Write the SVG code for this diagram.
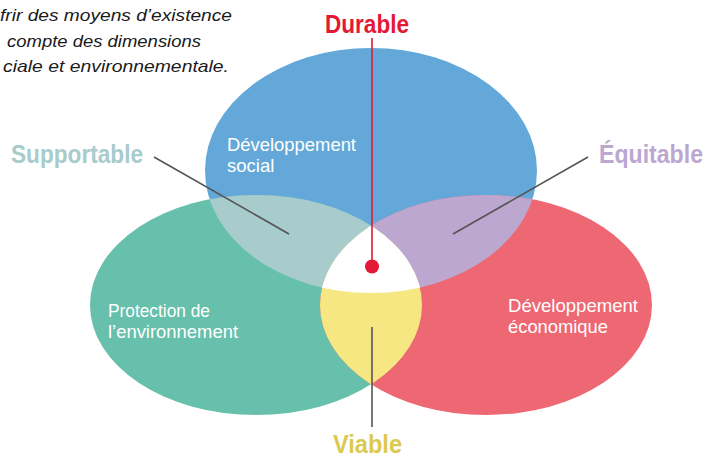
<svg xmlns="http://www.w3.org/2000/svg" width="707" height="459" viewBox="0 0 707 459">
<style>
.lab{font-family:"Liberation Sans",Arial,sans-serif;font-weight:bold;font-size:26px}
.in{font-family:"Liberation Sans",Arial,sans-serif;font-size:18.5px;fill:#ffffff}
.it{font-family:"Liberation Sans",Arial,sans-serif;font-style:italic;font-size:16.5px;fill:#1a1a1a}
.ln{stroke:#555555;stroke-width:1.6;fill:none}
</style>
<defs>
<clipPath id="cBlue"><ellipse cx="371" cy="170.5" rx="166" ry="122.5"/></clipPath>
<clipPath id="cGreen"><ellipse cx="256" cy="305" rx="166" ry="110"/></clipPath>
<clipPath id="cRed"><ellipse cx="486" cy="305" rx="166" ry="110"/></clipPath>
</defs>
<g id="intro">
<text class="it" x="0" y="21" textLength="232" lengthAdjust="spacingAndGlyphs">frir des moyens d’existence</text>
<text class="it" x="7" y="47" textLength="194" lengthAdjust="spacingAndGlyphs">compte des dimensions</text>
<text class="it" x="3" y="72" textLength="226" lengthAdjust="spacingAndGlyphs">ciale et environnementale.</text>
</g>
<g id="social"><ellipse cx="371" cy="170.5" rx="166" ry="122.5" fill="#63a8d9"/></g>
<g id="environnement"><ellipse cx="256" cy="305" rx="166" ry="110" fill="#67c0ab"/></g>
<g id="economique"><ellipse cx="486" cy="305" rx="166" ry="110" fill="#ed6872"/></g>
<g id="supportable-zone" clip-path="url(#cBlue)"><ellipse cx="256" cy="305" rx="166" ry="110" fill="#a8cbcc"/></g>
<g id="equitable-zone" clip-path="url(#cBlue)"><ellipse cx="486" cy="305" rx="166" ry="110" fill="#bca7d1"/></g>
<g id="viable-zone" clip-path="url(#cGreen)"><ellipse cx="486" cy="305" rx="166" ry="110" fill="#f7e783"/></g>
<g id="durable-zone" clip-path="url(#cBlue)"><g clip-path="url(#cGreen)"><ellipse cx="486" cy="305" rx="166" ry="110" fill="#ffffff"/></g></g>
<g id="inner-labels">
<text class="in" x="227" y="151" textLength="129" lengthAdjust="spacingAndGlyphs">Développement</text>
<text class="in" x="227" y="172">social</text>
<text class="in" x="108" y="317" textLength="102" lengthAdjust="spacingAndGlyphs">Protection de</text>
<text class="in" x="108" y="338" textLength="130" lengthAdjust="spacingAndGlyphs">l’environnement</text>
<text class="in" x="508" y="312" textLength="130" lengthAdjust="spacingAndGlyphs">Développement</text>
<text class="in" x="508" y="333" textLength="100" lengthAdjust="spacingAndGlyphs">économique</text>
</g>
<g id="connectors">
<line class="ln" x1="154" y1="157" x2="289" y2="234"/>
<line class="ln" x1="588" y1="157" x2="453" y2="234"/>
<line class="ln" x1="372" y1="327" x2="372" y2="427"/>
<line x1="372" y1="38" x2="372" y2="266" stroke="#e31937" stroke-width="1.6"/>
<circle cx="372" cy="266.5" r="7" fill="#e31937"/>
</g>
<g id="labels">
<text class="lab" x="325" y="33" fill="#e31937" textLength="84" lengthAdjust="spacingAndGlyphs">Durable</text>
<text class="lab" x="11" y="163" fill="#a8cbcc" textLength="132" lengthAdjust="spacingAndGlyphs">Supportable</text>
<text class="lab" x="599" y="163" fill="#bca7d1" textLength="104" lengthAdjust="spacingAndGlyphs">Équitable</text>
<text class="lab" x="333" y="453" fill="#dcc94f" textLength="69" lengthAdjust="spacingAndGlyphs">Viable</text>
</g>
</svg>
